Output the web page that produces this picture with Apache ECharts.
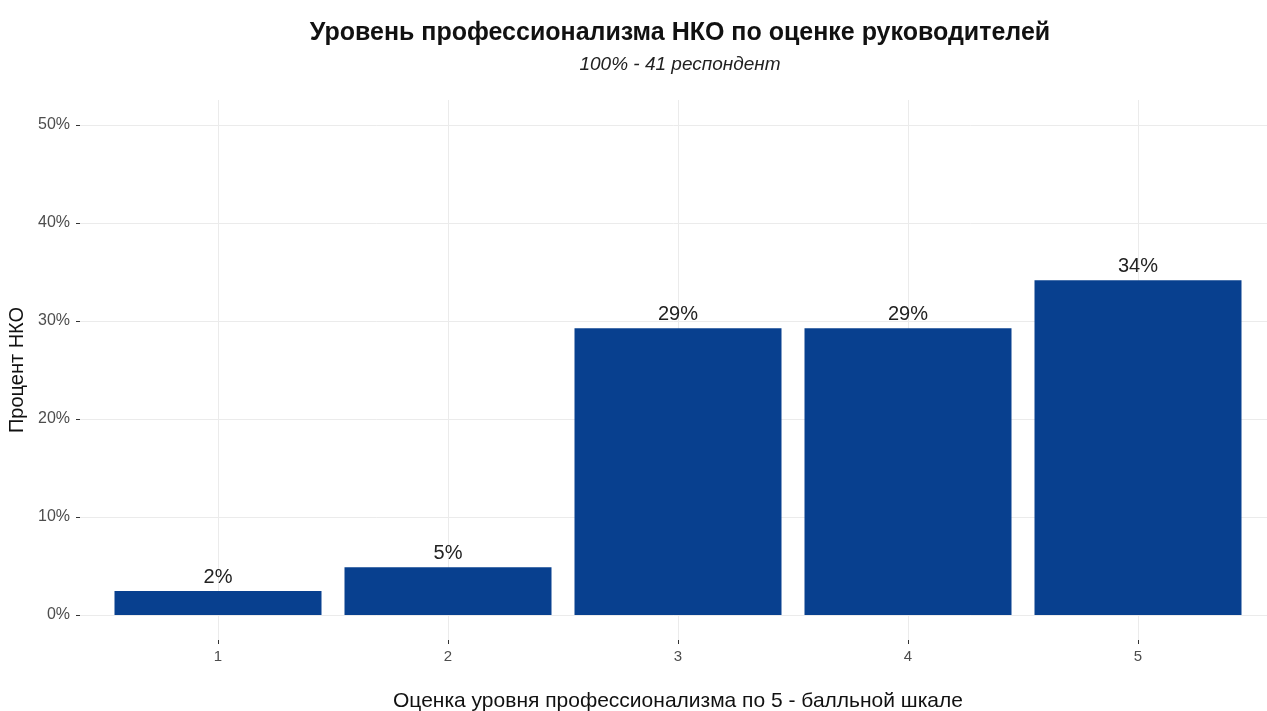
<!DOCTYPE html>
<html>
<head>
<meta charset="utf-8">
<script src="https://cdn.jsdelivr.net/npm/echarts@6/dist/echarts.min.js"></script>
<style>
html,body{margin:0;padding:0;background:#fff;}
#chart{width:1267px;height:711px;}
</style>
</head>
<body>
<div id="chart"></div>
<script>
// Data
const categories = ['1', '2', '3', '4', '5'];
const shares = [2.44, 4.88, 29.27, 29.27, 34.15]; // percent of 41 respondents
const yMin = 0, yMax = 50, yStep = 10;
const titleText = 'Уровень профессионализма НКО по оценке руководителей';
const subtitleText = '100% - 41 респондент';
const xTitle = 'Оценка уровня профессионализма по 5 - балльной шкале';
const yTitle = 'Процент НКО';

const font = 'Liberation Sans, Arial, Helvetica, sans-serif';
const chart = echarts.init(document.getElementById('chart'));
chart.setOption({
  backgroundColor: '#ffffff',
  animation: false,
  title: [
    { text: titleText, left: 675, top: 16, textAlign: 'center',
      textStyle: { fontFamily: font, fontSize: 25, fontWeight: 'bold', color: '#111' } },
    { text: subtitleText, left: 675, top: 50, textAlign: 'center',
      textStyle: { fontFamily: font, fontSize: 19, fontStyle: 'italic', fontWeight: 'normal', color: '#222' } }
  ],
  grid: [
    { left: 80, right: 0, top: 125, height: 490, outerBoundsMode: 'none', containLabel: false },
    { left: 218, width: 920, top: 100, height: 540, outerBoundsMode: 'none', containLabel: false },
    { left: 218, width: 920, top: 125, height: 490, outerBoundsMode: 'none', containLabel: false }
  ],
  xAxis: [
    { gridIndex: 0, type: 'value', show: false },
    { gridIndex: 1, type: 'category', data: categories, boundaryGap: false,
      name: xTitle, nameLocation: 'middle', nameGap: 51,
      nameTextStyle: { fontFamily: font, fontSize: 21, color: '#111' },
      axisLine: { show: false },
      axisTick: { show: true, length: 4, lineStyle: { color: '#333' } },
      axisLabel: { fontFamily: font, fontSize: 15, color: '#4d4d4d', margin: 9 },
      splitLine: { show: true, lineStyle: { color: '#ebebeb', width: 1 } } },
    { gridIndex: 2, type: 'category', data: categories, boundaryGap: false, show: false }
  ],
  yAxis: [
    { gridIndex: 0, type: 'value', min: yMin, max: yMax, interval: yStep,
      name: yTitle, nameLocation: 'middle', nameGap: 49,
      nameTextStyle: { fontFamily: font, fontSize: 20, color: '#111' },
      axisLine: { show: false },
      axisTick: { show: true, length: 4, lineStyle: { color: '#333' } },
      axisLabel: { formatter: '{value}%', fontFamily: font, fontSize: 16, color: '#4d4d4d', margin: 10 },
      splitLine: { show: true, lineStyle: { color: '#ebebeb', width: 1 } } },
    { gridIndex: 1, type: 'value', min: 0, max: 1, show: false },
    { gridIndex: 2, type: 'value', min: yMin, max: yMax, show: false }
  ],
  series: [{
    type: 'bar',
    xAxisIndex: 2,
    yAxisIndex: 2,
    data: shares,
    barWidth: 207,
    clip: false,
    itemStyle: { color: '#08408F' },
    label: {
      show: true, position: 'top', distance: 4,
      formatter: p => Math.round(p.value) + '%',
      fontFamily: font, fontSize: 20, color: '#222'
    }
  }]
});
</script>
</body>
</html>
